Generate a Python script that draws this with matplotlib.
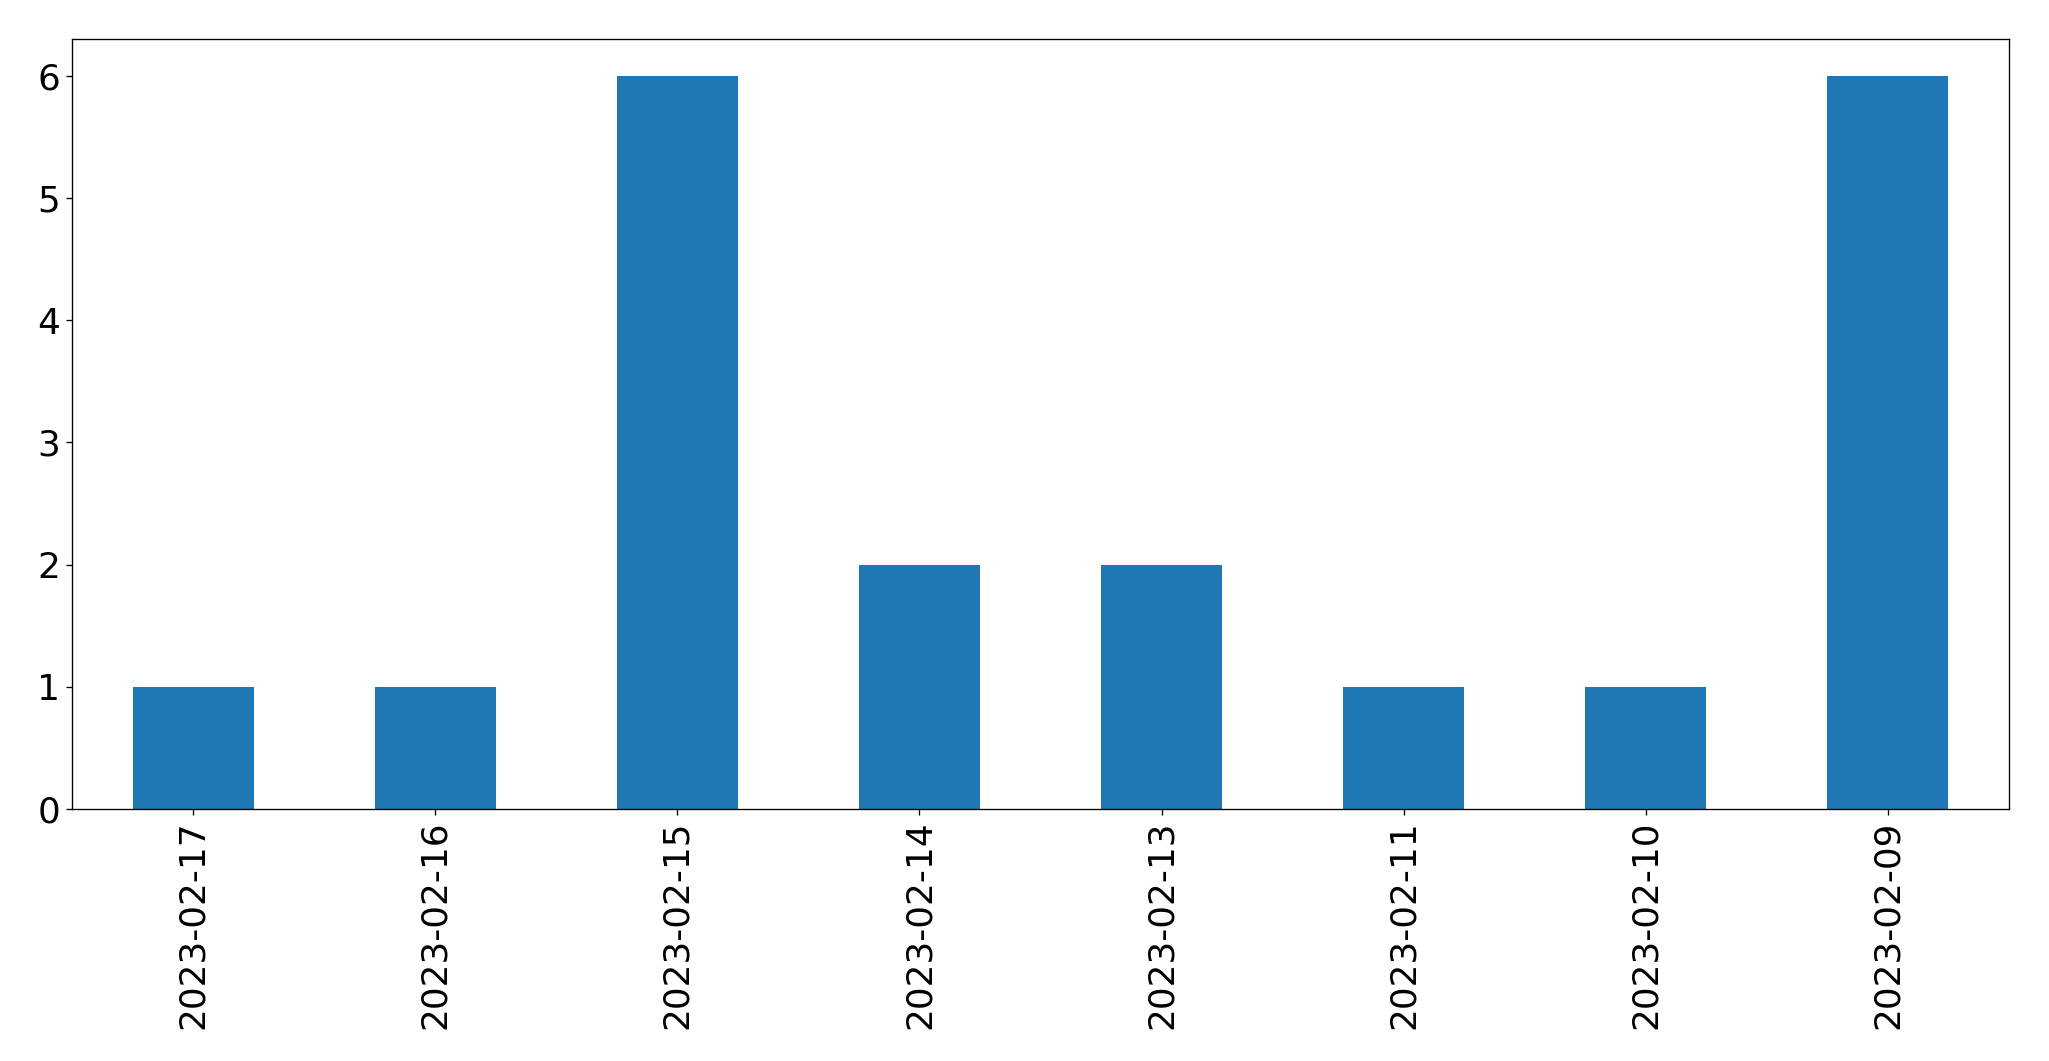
import matplotlib
matplotlib.use("Agg")
import matplotlib.pyplot as plt

dates = ["2023-02-17", "2023-02-16", "2023-02-15", "2023-02-14",
         "2023-02-13", "2023-02-11", "2023-02-10", "2023-02-09"]
counts = [1, 1, 6, 2, 2, 1, 1, 6]

dpi = 120
fig = plt.figure(figsize=(2049 / dpi, 1061 / dpi), dpi=dpi)
ax = fig.add_axes([72 / 2049, 1 - 809 / 1061, (2009 - 72) / 2049, (809 - 39) / 1061])
x = list(range(len(dates)))
ax.bar(x, counts, width=0.5, color="#1f77b4")
ax.set_xlim(-0.5, len(dates) - 0.5)
ax.set_ylim(0, 6.3)
ax.set_xticks(x)
ax.set_xticklabels(dates, rotation=90)
ax.tick_params(labelsize=21.5)
fig.savefig("out.png", dpi=dpi)
